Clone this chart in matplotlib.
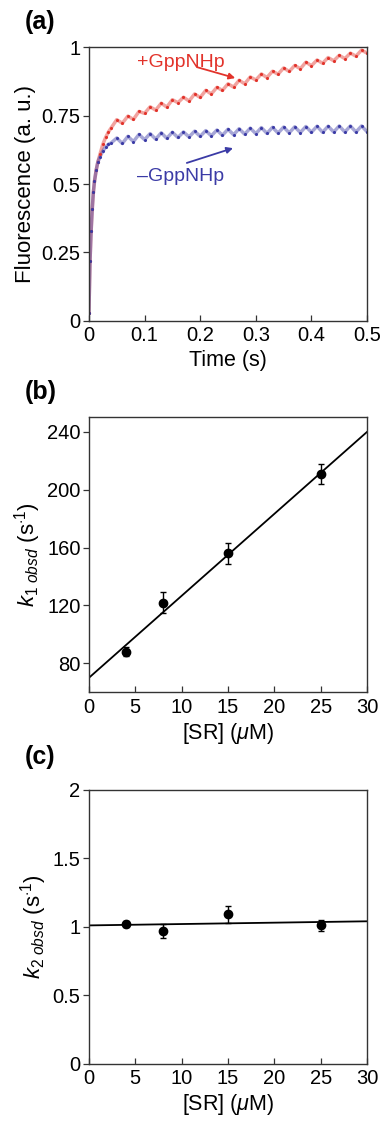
import matplotlib
matplotlib.use("Agg")
import matplotlib.pyplot as plt
from matplotlib.ticker import FuncFormatter

plt.rcParams["font.family"] = ["Liberation Sans", "DejaVu Sans"]
plt.rcParams["mathtext.fontset"] = "custom"
plt.rcParams["mathtext.rm"] = "Liberation Sans"
plt.rcParams["mathtext.it"] = "Liberation Sans:italic"

# panel (a): stopped-flow traces
time = [0, 0.002, 0.004, 0.006, 0.008, 0.010, 0.013, 0.016, 0.020, 0.025, 0.030, 0.035, 0.040,
        0.05, 0.06, 0.07, 0.08, 0.09, 0.10, 0.11, 0.12, 0.13, 0.14, 0.15, 0.16, 0.17, 0.18, 0.19,
        0.20, 0.21, 0.22, 0.23, 0.24, 0.25, 0.26, 0.27, 0.28, 0.29, 0.30, 0.31, 0.32, 0.33, 0.34,
        0.35, 0.36, 0.37, 0.38, 0.39, 0.40, 0.41, 0.42, 0.43, 0.44, 0.45, 0.46, 0.47, 0.48, 0.49, 0.50]
fl_plus = [0.03, 0.22, 0.33, 0.41, 0.47, 0.51, 0.55, 0.58, 0.61, 0.645, 0.67, 0.69, 0.705,
           0.735, 0.722, 0.748, 0.736, 0.765, 0.758, 0.782, 0.770, 0.795, 0.781, 0.808, 0.797, 0.817,
           0.803, 0.829, 0.816, 0.842, 0.829, 0.853, 0.842, 0.866, 0.854, 0.879, 0.866, 0.891, 0.880,
           0.902, 0.889, 0.912, 0.901, 0.924, 0.911, 0.933, 0.921, 0.945, 0.932, 0.953, 0.941, 0.962,
           0.950, 0.970, 0.958, 0.978, 0.967, 0.989, 0.978]
fl_minus = [0.03, 0.22, 0.33, 0.41, 0.47, 0.51, 0.55, 0.58, 0.60, 0.62, 0.635, 0.645, 0.65,
            0.668, 0.648, 0.674, 0.655, 0.681, 0.662, 0.684, 0.664, 0.687, 0.667, 0.689, 0.670, 0.690,
            0.672, 0.693, 0.674, 0.695, 0.676, 0.697, 0.678, 0.700, 0.680, 0.702, 0.682, 0.704, 0.684,
            0.706, 0.685, 0.707, 0.686, 0.708, 0.687, 0.709, 0.688, 0.710, 0.689, 0.711, 0.689, 0.711,
            0.690, 0.712, 0.690, 0.712, 0.690, 0.712, 0.691]

# panel (b) and (c): observed rate constants vs [SR]
sr = [4, 8, 15, 25]
k1 = [88, 122, 156, 211]
k1_err = [3, 7, 7, 7]
k1_fit = [70, 240]
k2 = [1.02, 0.97, 1.09, 1.01]
k2_err = [0.02, 0.05, 0.06, 0.04]
k2_fit = [1.01, 1.04]
fit_x = [0, 30]

RED = "#e2332b"
BLUE = "#3b3ba6"
FRAME = "#333333"

fig = plt.figure(figsize=(3.8, 11.22), dpi=100)
ax_a = fig.add_axes([0.234, 0.714, 0.732, 0.244])
ax_b = fig.add_axes([0.234, 0.383, 0.732, 0.245])
ax_c = fig.add_axes([0.234, 0.052, 0.732, 0.244])

fmt = FuncFormatter(lambda v, p: "{:g}".format(round(v, 3)))

for ax in (ax_a, ax_b, ax_c):
    for s in ax.spines.values():
        s.set_color(FRAME)
        s.set_linewidth(1.0)
    ax.tick_params(axis="x", direction="in", length=4, width=0.9, color=FRAME, labelsize=14.5, pad=4)
    ax.tick_params(axis="y", direction="out", length=4, width=0.9, color=FRAME, labelsize=14.5, pad=2)
    ax.xaxis.set_major_formatter(fmt)
    ax.yaxis.set_major_formatter(fmt)

# (a) noisy traces
ax_a.plot(time, fl_plus, color=RED, lw=2.5, alpha=0.45)
ax_a.plot(time, fl_minus, color=BLUE, lw=2.5, alpha=0.45)
ax_a.plot(time, fl_plus, ".", color=RED, ms=2.5)
ax_a.plot(time, fl_minus, ".", color=BLUE, ms=2.5)
ax_a.set_xlim(0, 0.5)
ax_a.set_ylim(0, 1)
ax_a.set_xticks([0, 0.1, 0.2, 0.3, 0.4, 0.5])
ax_a.set_yticks([0, 0.25, 0.5, 0.75, 1])
ax_a.set_xlabel("Time (s)", fontsize=15.5, labelpad=3)
ax_a.set_ylabel("Fluorescence (a. u.)", fontsize=16, labelpad=4)
ax_a.text(0.086, 0.945, "+GppNHp", color=RED, fontsize=14, va="center", ha="left")
ax_a.annotate("", xy=(0.263, 0.887), xytext=(0.194, 0.927),
              arrowprops=dict(arrowstyle="-|>", color=RED, lw=1.3, shrinkA=0, shrinkB=0,
                              mutation_scale=9))
ax_a.text(0.086, 0.526, "\u2013GppNHp", color=BLUE, fontsize=14, va="center", ha="left")
ax_a.annotate("", xy=(0.259, 0.631), xytext=(0.176, 0.577),
              arrowprops=dict(arrowstyle="-|>", color=BLUE, lw=1.3, shrinkA=0, shrinkB=0,
                              mutation_scale=9))

# (b)
ax_b.plot(fit_x, k1_fit, color="black", lw=1.3)
ax_b.errorbar(sr, k1, yerr=k1_err, fmt="o", color="black", ms=6, capsize=2, elinewidth=1)
ax_b.set_xlim(0, 30)
ax_b.set_ylim(60, 250)
ax_b.set_xticks([0, 5, 10, 15, 20, 25, 30])
ax_b.set_yticks([80, 120, 160, 200, 240])
ax_b.set_xlabel(r"[SR] ($\mu$M)", fontsize=15.5, labelpad=3)
ax_b.set_ylabel(r"$k_{1\ obsd}$ (s$^{\cdot 1}$)", fontsize=16, labelpad=3)

# (c)
ax_c.plot(fit_x, k2_fit, color="black", lw=1.3)
ax_c.errorbar(sr, k2, yerr=k2_err, fmt="o", color="black", ms=6, capsize=2, elinewidth=1)
ax_c.set_xlim(0, 30)
ax_c.set_ylim(0, 2)
ax_c.set_xticks([0, 5, 10, 15, 20, 25, 30])
ax_c.set_yticks([0, 0.5, 1, 1.5, 2])
ax_c.set_xlabel(r"[SR] ($\mu$M)", fontsize=15.5, labelpad=3)
ax_c.set_ylabel(r"$k_{2\ obsd}$ (s$^{\cdot 1}$)", fontsize=16, labelpad=3)

for lab, y in (("(a)", 0.980), ("(b)", 0.651), ("(c)", 0.325)):
    fig.text(0.066, y, lab, fontsize=18, fontweight="bold", va="center", ha="left")

fig.savefig("out.png", dpi=100)
plt.close(fig)
